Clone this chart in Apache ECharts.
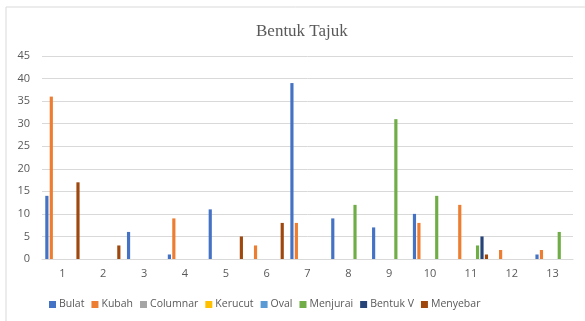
<!DOCTYPE html>
<html>
<head>
<meta charset="utf-8">
<script src="https://cdn.jsdelivr.net/npm/echarts@6/dist/echarts.min.js"></script>
<style>
  html, body { margin: 0; padding: 0; background: #ffffff; }
  #chart { width: 585px; height: 321px; }
</style>
</head>
<body>
<div id="chart"></div>
<script>
// Crown shape counts per plot number
const categories = ['1', '2', '3', '4', '5', '6', '7', '8', '9', '10', '11', '12', '13'];
const yTicks = [0, 5, 10, 15, 20, 25, 30, 35, 40, 45];

const bulat     = [14, 0, 6, 1, 11, 0, 39, 9, 7, 10, 0, 0, 1];
const kubah     = [36, 0, 0, 9, 0, 3, 8, 0, 0, 8, 12, 2, 2];
const columnar  = [0, 0, 0, 0, 0, 0, 0, 0, 0, 0, 0, 0, 0];
const kerucut   = [0, 0, 0, 0, 0, 0, 0, 0, 0, 0, 0, 0, 0];
const oval      = [0, 0, 0, 0, 0, 0, 0, 0, 0, 0, 0, 0, 0];
const menjurai  = [0, 0, 0, 0, 0, 0, 0, 12, 31, 14, 3, 0, 6];
const bentukV   = [0, 0, 0, 0, 0, 0, 0, 0, 0, 0, 5, 0, 0];
const menyebar  = [17, 3, 0, 0, 5, 8, 0, 0, 0, 0, 1, 0, 0];

const seriesDefs = [
  { name: 'Bulat', data: bulat, color: '#4472C4' },
  { name: 'Kubah', data: kubah, color: '#ED7D31' },
  { name: 'Columnar', data: columnar, color: '#A5A5A5' },
  { name: 'Kerucut', data: kerucut, color: '#FFC000' },
  { name: 'Oval', data: oval, color: '#5B9BD5' },
  { name: 'Menjurai', data: menjurai, color: '#70AD47' },
  { name: 'Bentuk V', data: bentukV, color: '#264478' },
  { name: 'Menyebar', data: menyebar, color: '#9E480E' }
];

const textColor = '#595959';
const uiFont = '"Open Sans", "Noto Sans", sans-serif';

const chart = echarts.init(document.getElementById('chart'), null, { renderer: 'canvas' });
chart.setOption({
  backgroundColor: '#ffffff',
  animation: false,
  title: {
    text: 'Bentuk Tajuk',
    left: 251,
    top: 18,
    textStyle: {
      fontFamily: '"Liberation Serif", "DejaVu Serif", serif',
      fontSize: 17,
      fontWeight: 'normal',
      color: textColor
    }
  },
  graphic: [
    {
      type: 'polyline',
      shape: { points: [[6, 321], [6, 7], [585, 7]] },
      style: { stroke: '#d9d9d9', lineWidth: 1, fill: null },
      silent: true
    }
  ],
  legend: {
    bottom: 6,
    left: 44,
    itemWidth: 7,
    itemHeight: 7,
    itemGap: 7,
    icon: 'rect',
    textStyle: { fontFamily: uiFont, fontSize: 10.5, color: textColor, padding: [0, 0, 0, -2] },
    data: seriesDefs.map(s => s.name)
  },
  grid: { left: 42, right: 12, top: 56, bottom: 62, containLabel: false },
  xAxis: {
    type: 'category',
    data: categories,
    axisLine: { show: true, lineStyle: { color: '#d9d9d9' } },
    axisTick: { show: false },
    axisLabel: { fontFamily: uiFont, fontSize: 11, color: textColor, margin: 9 }
  },
  yAxis: {
    type: 'value',
    min: yTicks[0],
    max: yTicks[yTicks.length - 1],
    interval: 5,
    axisLine: { show: false },
    axisTick: { show: false },
    splitLine: { lineStyle: { color: '#d9d9d9', width: 1 } },
    axisLabel: { fontFamily: uiFont, fontSize: 11, color: textColor, margin: 12 }
  },
  series: seriesDefs.map(s => ({
    name: s.name,
    type: 'bar',
    data: s.data,
    barCategoryGap: '16%',
    barGap: '40%',
    itemStyle: { color: s.color }
  }))
});
</script>
</body>
</html>
